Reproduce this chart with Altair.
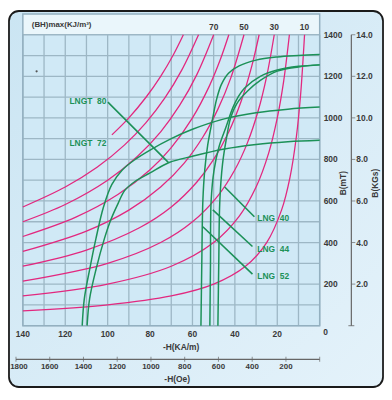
import altair as alt
import pandas as pd

# ---------------- data (H in kA/m, B in mT) ----------------
# iso-(BH)max curves, kJ/m^3
bh10_H = [140, 100, 70, 50, 35, 25, 18, 14, 11, 9, 7.14]
bh10_B = [71, 100, 143, 200, 286, 400, 556, 714, 909, 1111, 1400]
bh20_H = [140, 100, 70, 50, 38, 30, 24, 20, 17, 14.29]
bh20_B = [143, 200, 286, 400, 526, 667, 833, 1000, 1176, 1400]
bh30_H = [140, 100, 75, 60, 48, 40, 34, 29, 25, 21.43]
bh30_B = [214, 300, 400, 500, 625, 750, 882, 1034, 1200, 1400]
bh40_H = [140, 110, 85, 70, 58, 50, 43, 37, 32, 28.57]
bh40_B = [286, 364, 471, 571, 690, 800, 930, 1081, 1250, 1400]
bh50_H = [140, 110, 90, 75, 64, 55, 48, 42, 35.71]
bh50_B = [357, 455, 556, 667, 781, 909, 1042, 1190, 1400]
bh60_H = [140, 115, 95, 80, 70, 60, 52, 47, 42.86]
bh60_B = [429, 522, 632, 750, 857, 1000, 1154, 1277, 1400]
bh70_H = [140, 120, 100, 86, 75, 66, 58, 50]
bh70_B = [500, 583, 700, 814, 933, 1061, 1207, 1400]
bh80_H = [140, 120, 105, 92, 82, 73, 65, 57.14]
bh80_B = [571, 667, 762, 870, 976, 1096, 1231, 1400]
bh90_H = [98, 90, 82, 75, 69, 64.29]
bh90_B = [918, 1000, 1098, 1200, 1304, 1400]

# demagnetization curves
lng52_H = [56, 55.6, 55.1, 54.2, 52.8, 50.6, 48.6, 46.4, 43, 38, 30, 20, 10, 0]
lng52_B = [0, 300, 600, 750, 870, 990, 1090, 1160, 1215, 1250, 1278, 1293, 1300, 1305]
lng44_H = [51.8, 51.5, 51.2, 49.8, 47.5, 44.3, 41, 38.5, 35.5, 28, 20, 10, 0]
lng44_B = [0, 300, 600, 750, 860, 952, 1048, 1100, 1143, 1200, 1230, 1248, 1255]
lng40_H = [48, 47.6, 47.1, 45.8, 44, 42, 39, 34, 28, 20, 10, 0]
lng40_B = [0, 300, 600, 780, 900, 1000, 1070, 1129, 1180, 1225, 1245, 1255]
lngt72_H = [112, 111, 108.5, 105.5, 102, 98, 93, 87, 80, 70, 60, 45, 30, 15, 0]
lngt72_B = [0, 130, 270, 420, 570, 680, 750, 800, 845, 900, 945, 995, 1025, 1042, 1052]
lngt80_H = [109.7, 108.5, 105.5, 101.5, 98.5, 95, 92, 87, 80, 71, 60, 45, 30, 15, 0]
lngt80_B = [0, 130, 270, 420, 510, 590, 650, 695, 735, 785, 815, 850, 872, 885, 892]

# curve labels and leader lines
grade_names = ["LNGT\u00a0\u00a080", "LNGT\u00a0\u00a072", "LNG\u00a0\u00a040", "LNG\u00a0\u00a044", "LNG\u00a0\u00a052"]
grade_label_H = [118, 118, 29.4, 29.4, 29.4]
grade_label_B = [1081, 881, 519, 371, 238]
leader_H1 = [99.9, 30.8, 31.7, 31.7]
leader_B1 = [1076, 524, 381, 248]
leader_H2 = [71.4, 44.8, 50.4, 55.1]
leader_B2 = [786, 667, 557, 476]

# small speck in the upper-left of the plot
speck_H = [133.5]
speck_B = [1224]

# axes
h_tick_labels = [140, 120, 100, 80, 60, 40, 20]
b_tick_labels = [200, 400, 600, 800, 1000, 1200, 1400]
kgs_ticks = [2, 4, 6, 8, 10, 12, 14]
oe_ticks = [1800, 1600, 1400, 1200, 1000, 800, 600, 400, 200]
bh_top_labels = [70, 50, 30, 10]
h_grid = [0, 10, 20, 30, 40, 50, 60, 70, 80, 90, 100, 110, 120, 130, 140]
b_grid = [0, 100, 200, 300, 400, 500, 600, 700, 800, 900, 1000, 1100, 1200, 1300, 1400]

# ---------------- tables ----------------
bh_sets = [(10, bh10_H, bh10_B), (20, bh20_H, bh20_B), (30, bh30_H, bh30_B),
           (40, bh40_H, bh40_B), (50, bh50_H, bh50_B), (60, bh60_H, bh60_B),
           (70, bh70_H, bh70_B), (80, bh80_H, bh80_B), (90, bh90_H, bh90_B)]
bh_rows = []
for lvl, hs, bs in bh_sets:
    for h, b in zip(hs, bs):
        bh_rows.append({"curve": lvl, "H": h, "B": b})
bh_df = pd.DataFrame(bh_rows)

gr_sets = [("LNG52", lng52_H, lng52_B), ("LNG44", lng44_H, lng44_B), ("LNG40", lng40_H, lng40_B),
           ("LNGT72", lngt72_H, lngt72_B), ("LNGT80", lngt80_H, lngt80_B)]
gr_rows = []
for name, hs, bs in gr_sets:
    for h, b in zip(hs, bs):
        gr_rows.append({"curve": name, "H": h, "B": b})
gr_df = pd.DataFrame(gr_rows)

lab_df = pd.DataFrame({"t": grade_names, "H": grade_label_H, "B": grade_label_B})
lead_df = pd.DataFrame({"H": leader_H1, "B": leader_B1, "H2": leader_H2, "B2": leader_B2})

W, HGT = 300, 315
FONT = "Liberation Sans"
PINK = "#e2287f"
GREEN = "#1c9158"
GRIDC = "#9db7c5"
TXT = "#3a3a3a"

xs = alt.Scale(domain=[0, 140], reverse=True, nice=False, zero=False)
ys = alt.Scale(domain=[0, 1500], nice=False, zero=False)


def X(f):
    return alt.X(f, type="quantitative", scale=xs, axis=None)


def Y(f):
    return alt.Y(f, type="quantitative", scale=ys, axis=None)


one = pd.DataFrame({"a": [0]})

frame = alt.Chart(one).mark_rect(
    cornerRadius=10, stroke="#1a1a1a", strokeWidth=1.8,
    fill=alt.Gradient(gradient="linear", x1=0, y1=0, x2=1, y2=1,
                      stops=[alt.GradientStop(color="#cbe5f3", offset=0),
                             alt.GradientStop(color="#e4f2fa", offset=1)])
).encode(x=alt.value(-14), x2=alt.value(364), y=alt.value(-3), y2=alt.value(377))

plot_bg = alt.Chart(pd.DataFrame({"H": [140], "H2": [0], "B": [0], "B2": [1400]})).mark_rect(
    fill="#d0e9f6").encode(x=X("H"), x2="H2", y=Y("B"), y2="B2")
header_bg = alt.Chart(pd.DataFrame({"H": [140], "H2": [0], "B": [1400], "B2": [1500]})).mark_rect(
    fill="#eaf6fb").encode(x=X("H"), x2="H2", y=Y("B"), y2="B2")

vgrid = alt.Chart(pd.DataFrame({"H": h_grid})).transform_calculate(b0="0", b1="1400").mark_rule(
    color=GRIDC, strokeWidth=1.3).encode(x=X("H"), y=Y("b0:Q"), y2="b1:Q")
hgrid = alt.Chart(pd.DataFrame({"B": b_grid})).transform_calculate(h0="140", h1="0").mark_rule(
    color=GRIDC, strokeWidth=1.3).encode(y=Y("B"), x=X("h0:Q"), x2="h1:Q")
border = alt.Chart(pd.DataFrame({"H": [140], "H2": [0], "B": [0], "B2": [1500]})).mark_rect(
    fillOpacity=0, stroke="#93b0c0", strokeWidth=1.5).encode(x=X("H"), x2="H2", y=Y("B"), y2="B2")

speck = alt.Chart(pd.DataFrame({"H": speck_H, "B": speck_B})).mark_circle(
    color="#555", size=5, opacity=1).encode(x=X("H"), y=Y("B"))

bh_lines = alt.Chart(bh_df).mark_line(color=PINK, strokeWidth=1.3, interpolate="catmull-rom").encode(
    x=X("H"), y=Y("B"), detail="curve:N", order="B:Q")
gr_lines = alt.Chart(gr_df).mark_line(color=GREEN, strokeWidth=1.5, interpolate="catmull-rom").encode(
    x=X("H"), y=Y("B"), detail="curve:N", order="B:Q")
leaders = alt.Chart(lead_df).mark_rule(color=GREEN, strokeWidth=1.6).encode(
    x=X("H"), y=Y("B"), x2="H2", y2="B2")
labels = alt.Chart(lab_df).mark_text(align="left", baseline="middle", font=FONT, fontSize=8.5,
                                     fontWeight="bold", color=GREEN).encode(
    x=X("H"), y=Y("B"), text="t:N")

# header texts
head_title = alt.Chart(one).mark_text(align="left", baseline="middle", font=FONT, fontSize=8,
                                      fontWeight="bold", color=TXT, text="(BH)max(KJ/m\u00b3)").encode(
    x=alt.value(9), y=alt.value(11))
bh_top = alt.Chart(pd.DataFrame({"bh": bh_top_labels})).transform_calculate(
    H="datum.bh / 1.4").mark_text(baseline="middle", font=FONT, fontSize=8.5, fontWeight="bold",
                                 color=TXT).encode(x=X("H:Q"), y=alt.value(13), text="bh:N")

# bottom H axis
h_lab = alt.Chart(pd.DataFrame({"H": h_tick_labels})).mark_text(
    baseline="middle", font=FONT, fontSize=8.5, fontWeight="bold", color=TXT).encode(
    x=X("H"), y=alt.value(323), text="H:N")
h_zero = alt.Chart(pd.DataFrame({"H": [0]})).mark_text(
    baseline="middle", font=FONT, fontSize=8.5, fontWeight="bold", color=TXT, dx=6).encode(
    x=X("H"), y=alt.value(321), text="H:N")
h_title = alt.Chart(one).mark_text(baseline="middle", font=FONT, fontSize=8.5, fontWeight="bold",
                                   color=TXT, text="-H(KA/m)").encode(x=alt.value(160), y=alt.value(337))

# Oe axis
oe_line = alt.Chart(pd.DataFrame({"o0": [1800], "o1": [0]})).transform_calculate(
    H="datum.o0 * 0.0795775", H2="datum.o1 * 0.0795775").mark_rule(color="#666", strokeWidth=1.2).encode(
    x=X("H:Q"), x2="H2:Q", y=alt.value(349))
oe_tk = alt.Chart(pd.DataFrame({"oe": oe_ticks + [0]})).transform_calculate(
    H="datum.oe * 0.0795775").mark_tick(color="#666", size=5, thickness=1, orient="vertical").encode(
    x=X("H:Q"), y=alt.value(349))
oe_lab = alt.Chart(pd.DataFrame({"oe": oe_ticks[1:]})).transform_calculate(
    H="datum.oe * 0.0795775").mark_text(baseline="middle", font=FONT, fontSize=8, fontWeight="bold",
                                        color=TXT).encode(x=X("H:Q"), y=alt.value(357), text="oe:N")
oe_lab_first = alt.Chart(pd.DataFrame({"oe": oe_ticks[:1]})).transform_calculate(
    H="datum.oe * 0.0795775").mark_text(baseline="middle", font=FONT, fontSize=8, fontWeight="bold",
                                        color=TXT, dx=3).encode(x=X("H:Q"), y=alt.value(357), text="oe:N")
oe_title = alt.Chart(one).mark_text(baseline="middle", font=FONT, fontSize=8.5, fontWeight="bold",
                                    color=TXT, text="-H(Oe)").encode(x=alt.value(156), y=alt.value(369))

# right B axes
b_lab = alt.Chart(pd.DataFrame({"B": b_tick_labels})).mark_text(
    align="left", baseline="middle", font=FONT, fontSize=8.5, fontWeight="bold", color=TXT).encode(
    x=alt.value(304), y=Y("B"), text="B:N")
b_title = alt.Chart(one).mark_text(angle=270, baseline="middle", font=FONT, fontSize=8.5,
                                   fontWeight="bold", color=TXT, text="B(mT)").encode(
    x=alt.value(324), y=alt.value(171))
kgs_line = alt.Chart(pd.DataFrame({"B": [0], "B2": [1400]})).mark_rule(color="#666", strokeWidth=1.2).encode(
    x=alt.value(332), y=Y("B"), y2="B2")
kgs_tk = alt.Chart(pd.DataFrame({"k": kgs_ticks})).transform_calculate(B="datum.k * 100").mark_tick(
    color="#666", size=4, thickness=1, orient="horizontal").encode(x=alt.value(334), y=Y("B:Q"))
kgs_cap = alt.Chart(pd.DataFrame({"B": [0]})).mark_tick(
    color="#666", size=6, thickness=1.2, orient="horizontal").encode(x=alt.value(332), y=Y("B"))
kgs_lab = alt.Chart(pd.DataFrame({"k": kgs_ticks})).transform_calculate(
    B="datum.k * 100", t="format(datum.k, '.1f')").mark_text(
    align="left", baseline="middle", font=FONT, fontSize=8.5, fontWeight="bold", color=TXT).encode(
    x=alt.value(337), y=Y("B:Q"), text="t:N")
kgs_title = alt.Chart(one).mark_text(angle=270, baseline="middle", font=FONT, fontSize=8.5,
                                     fontWeight="bold", color=TXT, text="B(KGs)").encode(
    x=alt.value(356), y=alt.value(171))

chart = alt.layer(
    frame, plot_bg, header_bg, vgrid, hgrid, border, speck,
    bh_lines, gr_lines, leaders, labels,
    head_title, bh_top, h_lab, h_zero, h_title,
    oe_line, oe_tk, oe_lab, oe_lab_first, oe_title,
    b_lab, b_title, kgs_line, kgs_tk, kgs_cap, kgs_lab, kgs_title
).properties(
    width=W, height=HGT,
    padding={"left": 15, "top": 4, "right": 65, "bottom": 63},
    autosize=alt.AutoSizeParams(type="none"),
    background="white"
).configure_view(strokeWidth=0)

chart.save("out.html", embed_options={"renderer": "svg", "actions": False})
